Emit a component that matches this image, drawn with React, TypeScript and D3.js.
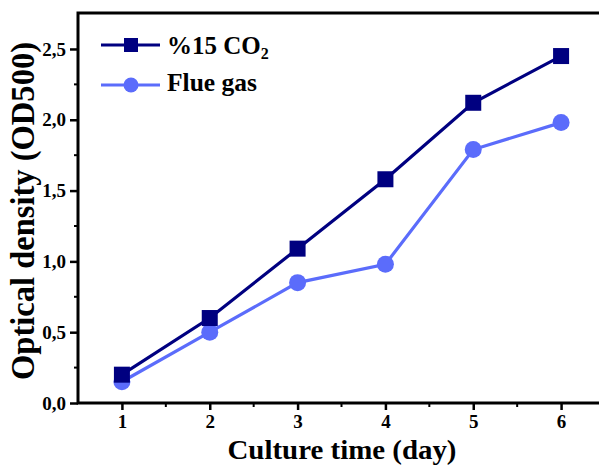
import React, { useEffect, useRef } from "react";
import * as d3 from "d3";

const days = [1, 2, 3, 4, 5, 6];
const co2Values = [0.2, 0.6, 1.09, 1.58, 2.12, 2.45];
const flueValues = [0.15, 0.5, 0.85, 0.98, 1.79, 1.98];
const yTicks = [0, 0.5, 1, 1.5, 2, 2.5];

const W = 599;
const H = 465;
const FONT = "'Liberation Serif', 'Times New Roman', serif";

const App = () => {
  const svgRef = useRef<SVGSVGElement | null>(null);

  useEffect(() => {
    const margin = { top: 13, right: -6, bottom: 62, left: 78 };
    const innerW = W - margin.left - margin.right;
    const innerH = H - margin.top - margin.bottom;

    const svg = d3.select(svgRef.current).attr("width", W).attr("height", H);
    svg.selectAll("*").remove();

    const g = svg.append("g").attr("transform", `translate(${margin.left},${margin.top})`);

    const x = d3.scaleLinear().domain([0.5, 6.5]).range([0, innerW]);
    const y = d3.scaleLinear().domain([0, 2.754]).range([innerH, 0]);

    // cadre
    g.append("rect")
      .attr("width", innerW)
      .attr("height", innerH)
      .attr("fill", "none")
      .attr("stroke", "#000")
      .attr("stroke-width", 3);

    // ticks mineurs
    const xMinor = days.slice(0, 5).map((d) => d + 0.5);
    g.selectAll("line.xminor")
      .data(xMinor)
      .enter()
      .append("line")
      .attr("x1", (d) => x(d))
      .attr("x2", (d) => x(d))
      .attr("y1", innerH)
      .attr("y2", innerH + 4)
      .attr("stroke", "#000")
      .attr("stroke-width", 2);

    const yMinor = yTicks.slice(0, 5).map((d) => d + 0.25);
    g.selectAll("line.yminor")
      .data(yMinor)
      .enter()
      .append("line")
      .attr("x1", 0)
      .attr("x2", -4)
      .attr("y1", (d) => y(d))
      .attr("y2", (d) => y(d))
      .attr("stroke", "#000")
      .attr("stroke-width", 2);

    // axe X
    const xAxis = g
      .append("g")
      .attr("transform", `translate(0,${innerH})`)
      .call(d3.axisBottom(x).tickValues(days).tickSize(7).tickFormat(d3.format("d")));
    xAxis.select(".domain").remove();
    xAxis.selectAll("line").attr("stroke-width", 2.5);
    xAxis
      .selectAll("text")
      .attr("y", 25)
      .attr("dy", 0)
      .style("font-family", FONT)
      .style("font-size", "19px")
      .style("font-weight", "bold")
      .attr("fill", "#000");

    // axe Y
    const yAxis = g
      .append("g")
      .call(
        d3
          .axisLeft(y)
          .tickValues(yTicks)
          .tickSize(8)
          .tickFormat((d) => d3.format(".1f")(d as number).replace(".", ","))
      );
    yAxis.select(".domain").remove();
    yAxis.selectAll("line").attr("stroke-width", 2.5);
    yAxis
      .selectAll("text")
      .attr("x", -12)
      .style("font-family", FONT)
      .style("font-size", "19px")
      .style("font-weight", "bold")
      .attr("fill", "#000");

    const series = [
      { name: "co2", values: co2Values, color: "#000080", shape: "square" },
      { name: "flue", values: flueValues, color: "#5b6cfb", shape: "circle" },
    ];

    const line = d3
      .line<number>()
      .x((_, i) => x(days[i]))
      .y((d) => y(d));

    // flue d'abord, puis CO2 au-dessus
    [series[1], series[0]].forEach((s) => {
      g.append("path")
        .datum(s.values)
        .attr("d", line)
        .attr("fill", "none")
        .attr("stroke", s.color)
        .attr("stroke-width", 3.2);

      if (s.shape === "square") {
        g.selectAll(`rect.${s.name}`)
          .data(s.values)
          .enter()
          .append("rect")
          .attr("x", (_, i) => x(days[i]) - 8)
          .attr("y", (d) => y(d) - 8)
          .attr("width", 16)
          .attr("height", 16)
          .attr("fill", s.color);
      } else {
        g.selectAll(`circle.${s.name}`)
          .data(s.values)
          .enter()
          .append("circle")
          .attr("cx", (_, i) => x(days[i]))
          .attr("cy", (d) => y(d))
          .attr("r", 8.5)
          .attr("fill", s.color);
      }
    });

    // légende
    const legend = svg.append("g");
    const rows = [45, 85];
    rows.forEach((ry, i) => {
      const s = series[i];
      legend
        .append("line")
        .attr("x1", 101)
        .attr("x2", 160)
        .attr("y1", ry)
        .attr("y2", ry)
        .attr("stroke", s.color)
        .attr("stroke-width", 3);
      if (s.shape === "square") {
        legend
          .append("rect")
          .attr("x", 124)
          .attr("y", ry - 7)
          .attr("width", 14)
          .attr("height", 14)
          .attr("fill", s.color);
      } else {
        legend
          .append("circle")
          .attr("cx", 131)
          .attr("cy", ry)
          .attr("r", 7.5)
          .attr("fill", s.color);
      }
    });

    const t1 = legend
      .append("text")
      .attr("x", 167)
      .attr("y", 54)
      .style("font-family", FONT)
      .style("font-size", "25px")
      .style("font-weight", "bold")
      .attr("fill", "#000");
    t1.append("tspan").text("%15 CO");
    t1.append("tspan").attr("dy", 5).style("font-size", "16px").text("2");

    legend
      .append("text")
      .attr("x", 167)
      .attr("y", 91)
      .attr("textLength", 90)
      .attr("lengthAdjust", "spacingAndGlyphs")
      .style("font-family", FONT)
      .style("font-size", "25px")
      .style("font-weight", "bold")
      .attr("fill", "#000")
      .text("Flue gas");

    // titres des axes
    svg
      .append("text")
      .attr("x", 342)
      .attr("y", 459)
      .attr("text-anchor", "middle")
      .attr("textLength", 229)
      .attr("lengthAdjust", "spacingAndGlyphs")
      .style("font-family", FONT)
      .style("font-size", "28px")
      .style("font-weight", "bold")
      .attr("fill", "#000")
      .text("Culture time (day)");

    svg
      .append("text")
      .attr("transform", `translate(34,211) rotate(-90)`)
      .attr("text-anchor", "middle")
      .attr("textLength", 338)
      .attr("lengthAdjust", "spacingAndGlyphs")
      .style("font-family", FONT)
      .style("font-size", "33px")
      .style("font-weight", "bold")
      .attr("fill", "#000")
      .text("Optical density (OD500)");
  }, []);

  return <svg ref={svgRef} style={{ position: "absolute", left: 0, top: 0 }}></svg>;
};

export default App;
